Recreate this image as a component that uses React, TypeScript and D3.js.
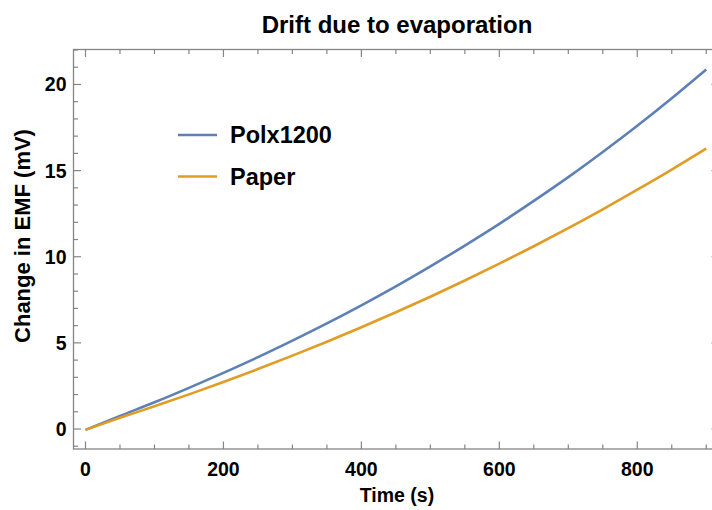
import React from "react";
import * as d3 from "d3";

// Elapsed time (s)
const times = [0, 50, 100, 150, 200, 250, 300, 350, 400, 450, 500, 550, 600, 650, 700, 750, 800, 850, 900];
// Change in EMF (mV) for each electrode
const polx1200 = [-0.05, 0.76, 1.55, 2.39, 3.26, 4.17, 5.13, 6.13, 7.18, 8.28, 9.44, 10.65, 11.91, 13.24, 14.62, 16.08, 17.6, 19.2, 20.87];
const paper = [-0.05, 0.65, 1.32, 2.01, 2.73, 3.48, 4.26, 5.07, 5.91, 6.78, 7.68, 8.62, 9.6, 10.61, 11.66, 12.75, 13.89, 15.06, 16.28];

const seriesNames = ["Polx1200", "Paper"];
const seriesColors = ["#5E81B5", "#E19C24"];
const xTickValues = [0, 200, 400, 600, 800];
const yTickValues = [0, 5, 10, 15, 20];

const W = 712;
const H = 510;
const frame = { left: 73.5, right: 719, top: 49.5, bottom: 449 };
const FONT = "'Liberation Sans', Arial, Helvetica, sans-serif";
const AXIS = "#858585";

export default function App() {
  const x = d3.scaleLinear().domain([-17.4, 918.5]).range([frame.left, frame.right]);
  const y = d3.scaleLinear().domain([-1.16, 22.03]).range([frame.bottom, frame.top]);

  const line = d3
    .line<number>()
    .x((_, i) => x(times[i]))
    .y((d) => y(d))
    .curve(d3.curveMonotoneX);

  const series = [polx1200, paper];

  const xMinor = d3.range(0, 901, 50).filter((v) => v % 200 !== 0);
  const yMinor = d3.range(-1, 23, 1).filter((v) => v % 5 !== 0);

  return (
    <svg
      width={W}
      height={H}
      style={{ position: "absolute", left: 0, top: 0, background: "#fff" }}
      fontFamily={FONT}
    >
      <text x={397} y={32.5} textAnchor="middle" fontWeight="bold" fontSize={24} fill="#000">
        Drift due to evaporation
      </text>

      {/* frame */}
      <rect
        x={frame.left}
        y={frame.top}
        width={frame.right - frame.left}
        height={frame.bottom - frame.top}
        fill="none"
        stroke={AXIS}
        strokeWidth={1.3}
      />

      {/* x ticks on bottom and top */}
      {xTickValues.map((v) => (
        <g key={"xt" + v}>
          <line x1={x(v)} x2={x(v)} y1={frame.bottom} y2={frame.bottom - 7.5} stroke={AXIS} strokeWidth={1.2} />
          <line x1={x(v)} x2={x(v)} y1={frame.top} y2={frame.top + 7.5} stroke={AXIS} strokeWidth={1.2} />
          <text x={x(v)} y={476} textAnchor="middle" fontWeight="bold" fontSize={19.5} fill="#000">
            {v}
          </text>
        </g>
      ))}
      {xMinor.map((v) => (
        <g key={"xm" + v}>
          <line x1={x(v)} x2={x(v)} y1={frame.bottom} y2={frame.bottom - 4.5} stroke={AXIS} strokeWidth={1.2} />
          <line x1={x(v)} x2={x(v)} y1={frame.top} y2={frame.top + 4.5} stroke={AXIS} strokeWidth={1.2} />
        </g>
      ))}

      {/* y ticks on left and right */}
      {yTickValues.map((v) => (
        <g key={"yt" + v}>
          <line x1={frame.left} x2={frame.left + 7.5} y1={y(v)} y2={y(v)} stroke={AXIS} strokeWidth={1.2} />
          <line x1={frame.right} x2={frame.right - 7.5} y1={y(v)} y2={y(v)} stroke={AXIS} strokeWidth={1.2} />
          <text x={66.5} y={y(v)} dy="0.36em" textAnchor="end" fontWeight="bold" fontSize={19.5} fill="#000">
            {v}
          </text>
        </g>
      ))}
      {yMinor.map((v) => (
        <g key={"ym" + v}>
          <line x1={frame.left} x2={frame.left + 4.5} y1={y(v)} y2={y(v)} stroke={AXIS} strokeWidth={1.2} />
          <line x1={frame.right} x2={frame.right - 4.5} y1={y(v)} y2={y(v)} stroke={AXIS} strokeWidth={1.2} />
        </g>
      ))}

      {/* axis labels */}
      <text x={397} y={501.5} textAnchor="middle" fontWeight="bold" fontSize={19.5} fill="#000">
        Time (s)
      </text>
      <text
        transform={`translate(30,236) rotate(-90)`}
        textAnchor="middle"
        fontWeight="bold"
        fontSize={22}
        fill="#000"
      >
        Change in EMF (mV)
      </text>

      {/* curves */}
      {series.map((s, i) => (
        <path key={seriesNames[i]} d={line(s) ?? ""} fill="none" stroke={seriesColors[i]} strokeWidth={2.6} />
      ))}

      {/* legend */}
      {seriesNames.map((name, i) => (
        <g key={"lg" + name} transform={`translate(0,${135 + i * 41.5})`}>
          <line x1={178} x2={217} y1={0} y2={0} stroke={seriesColors[i]} strokeWidth={2.6} />
          <text x={230} y={0} dy="0.36em" fontWeight="bold" fontSize={23.5} fill="#000">
            {name}
          </text>
        </g>
      ))}
    </svg>
  );
}
